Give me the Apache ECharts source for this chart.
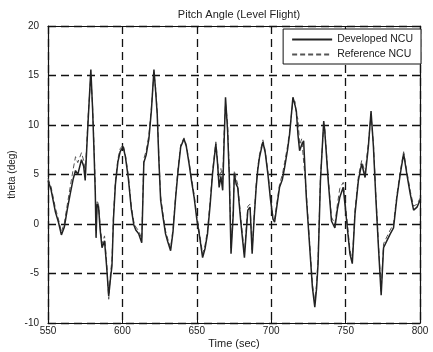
<!DOCTYPE html>
<html>
<head>
<meta charset="utf-8">
<script src="https://cdn.jsdelivr.net/npm/echarts@6/dist/echarts.min.js"></script>
<style>
  html, body { margin: 0; padding: 0; background: #fff; }
  #chart { width: 433px; height: 352px; }
</style>
</head>
<body>
<div id="chart"></div>
<script>
const time = [550, 552, 555, 557, 559, 561, 563, 565, 567, 568.5, 570, 572.5, 574, 575, 576, 577, 578.8, 580, 581, 581.8,
  582.3, 583, 584, 585, 586.3, 588, 589.5, 590.8, 592, 593, 594, 595.3, 597, 598.5, 600.5, 602, 604, 606, 607.7, 609,
  611, 613, 613.6, 614.4, 616, 617.8, 619.5, 621.2, 622.3, 623.4, 624.5, 625.7, 627.5, 629, 630.5, 632.4, 634, 635.8, 637.5, 639.2,
  641.4, 643, 644.8, 646.5, 648.2, 650, 651.6, 653.9, 655.5, 657.2, 659, 660.6, 662.8, 664, 665, 666.2, 667.4, 668.3, 669.3, 670.7,
  671.8, 673, 674.5, 675.2, 676.5, 677.5, 679.7, 682, 684.3, 685.8, 687.2, 688.5, 689.9, 691, 692.1, 694.4, 696, 697.8, 699.5, 701.2,
  702.3, 704, 705.6, 707.5, 709, 711, 712.4, 714.6, 716, 716.9, 718, 719.1, 720.5, 721.8, 723.6, 725.9, 727.7, 729.3, 730.5, 731.5,
  733.1, 735.3, 736, 738.3, 740.5, 742.8, 744.5, 746.1, 748.4, 750.7, 752.9, 754.5, 756.3, 758.6, 760.8, 763.1, 765.3, 767.1, 768.7, 770.3,
  772.1, 773.9, 775.5, 777.7, 780, 782.2, 784.5, 786.7, 789, 791.2, 793.5, 795.7, 798, 800];

const developed = [4.4, 3.5, 1.2, 0.2, -1.1, -0.3, 1.5, 3.1, 4.6, 5.4, 5.0, 6.5, 5.8, 4.4, 7.5, 10.5, 15.6, 11.5, 7.0, 3.0,
  -1.4, 2.0, 1.7, -0.5, -2.4, -1.7, -4.5, -7.3, -5.5, -4.2, 0.5, 4.0, 6.3, 7.3, 7.8, 6.8, 4.6, 1.5, -0.1, -0.6,
  -1.0, -1.9, 1.5, 6.2, 7.0, 8.6, 11.5, 15.6, 13.5, 11.1, 6.5, 2.4, 0.5, -1.0, -1.8, -2.7, -0.8, 2.7, 5.5, 7.8,
  8.6, 7.8, 6.1, 4.3, 2.7, 0.5, -1.0, -3.4, -2.5, -1.0, 2.0, 5.1, 8.1, 6.0, 3.7, 4.8, 3.4, 8.0, 12.8, 9.4,
  5.0, -3.0, 1.0, 5.1, 4.0, 3.7, 0.0, -3.4, 1.4, 1.7, -3.0, 0.5, 3.7, 5.5, 6.7, 8.3, 7.2, 5.0, 2.5, 0.5,
  0.2, 2.0, 3.7, 4.5, 5.7, 7.5, 9.1, 12.8, 12.0, 11.4, 9.0, 7.4, 8.0, 8.4, 2.7, -2.4, -6.4, -8.4, -6.5, -4.0,
  4.4, 10.4, 9.4, 4.4, 0.3, -0.4, 1.5, 2.7, 3.7, 0.3, -3.0, -4.0, 1.0, 4.4, 6.1, 4.7, 7.8, 11.4, 7.8, 2.7,
  -2.4, -7.2, -2.4, -1.7, -1.0, -0.4, 2.7, 5.0, 7.1, 5.0, 3.0, 1.4, 1.7, 2.4];

const reference = [4.6, 3.8, 1.6, 0.5, -0.8, 0.1, 2.0, 3.8, 5.6, 6.8, 6.2, 7.2, 6.4, 5.2, 8.0, 11.0, 15.0, 11.8, 7.6, 3.8,
  -0.8, 2.4, 1.9, 0.0, -2.0, -1.2, -4.0, -7.6, -5.0, -3.6, 1.0, 4.4, 6.6, 7.6, 8.0, 7.0, 4.9, 1.8, 0.2, -0.3,
  -0.7, -1.5, 2.0, 6.6, 7.4, 9.0, 11.8, 15.2, 13.8, 11.4, 6.9, 2.8, 0.8, -0.7, -1.5, -2.4, -0.5, 3.0, 5.8, 8.0,
  8.7, 8.0, 6.3, 4.6, 3.0, 0.8, -0.7, -3.0, -2.2, -0.6, 2.4, 5.4, 8.3, 6.4, 4.2, 5.6, 4.5, 9.0, 12.2, 10.2,
  5.6, -2.4, 1.4, 5.4, 4.6, 4.0, 0.4, -3.0, 1.8, 2.0, -2.6, 0.8, 4.0, 5.8, 7.0, 8.5, 7.4, 5.3, 2.8, 0.8,
  0.5, 2.3, 4.0, 5.0, 6.2, 7.9, 9.4, 12.4, 12.4, 11.0, 10.6, 8.0, 8.6, 8.8, 3.2, -2.0, -6.0, -8.0, -6.0, -3.5,
  4.8, 10.0, 9.6, 4.8, 0.7, 0.0, 2.0, 3.6, 4.2, 0.8, -2.6, -3.6, 1.4, 4.8, 6.4, 5.2, 8.2, 11.0, 8.2, 3.1,
  -2.0, -6.8, -2.0, -1.3, -0.6, 0.0, 3.0, 5.3, 7.3, 5.3, 3.3, 1.8, 2.0, 2.6];

const xTicks = [550, 600, 650, 700, 750, 800];
const yTicks = [-10, -5, 0, 5, 10, 15, 20];

const devData = time.map((t, i) => [t, developed[i]]);
const refData = time.map((t, i) => [t, reference[i]]);

const chart = echarts.init(document.getElementById('chart'), null, { renderer: 'canvas' });

const font = 'Liberation Sans, Arial, sans-serif';
const gridDash = { color: '#111', width: 1.3, type: [8, 5] };
const frame = { show: true, onZero: false, lineStyle: { color: '#111', width: 1.2 } };
const tick = { show: true, inside: true, length: 4, lineStyle: { color: '#111' } };

const option = {
  backgroundColor: '#fff',
  animation: false,
  title: {
    text: 'Pitch Angle (Level Flight)',
    left: 234,
    textAlign: 'center',
    top: 4,
    textStyle: { fontFamily: font, fontSize: 11, fontWeight: 'normal', color: '#222' }
  },
  legend: {
    orient: 'vertical',
    right: 12,
    top: 29,
    itemWidth: 40,
    itemHeight: 8,
    itemGap: 4,
    padding: [5, 8, 4, 8],
    backgroundColor: '#fff',
    borderColor: '#111',
    borderWidth: 1,
    itemStyle: { opacity: 0 },
    textStyle: { fontFamily: font, fontSize: 10.5, color: '#222' },
    data: ['Developed NCU', 'Reference NCU']
  },
  grid: { left: 48, right: 13, top: 26, bottom: 29, outerBoundsMode: 'none', containLabel: false },
  xAxis: [{
    type: 'value',
    min: 550,
    max: 800,
    interval: 50,
    name: 'Time (sec)',
    nameLocation: 'middle',
    nameGap: 15,
    nameMoveOverlap: false,
    nameTextStyle: { fontFamily: font, fontSize: 11, color: '#222' },
    axisLine: frame,
    axisTick: tick,
    axisLabel: { fontFamily: font, fontSize: 10, color: '#222', margin: 3,
      formatter: v => xTicks.includes(v) ? String(v) : '' },
    splitLine: { show: true, lineStyle: gridDash }
  }, {
    type: 'value', position: 'top', min: 550, max: 800, interval: 50,
    axisLine: frame, axisTick: tick,
    axisLabel: { show: false }, splitLine: { show: false }
  }],
  yAxis: [{
    type: 'value',
    min: -10,
    max: 20,
    interval: 5,
    name: 'theta (deg)',
    nameLocation: 'middle',
    nameGap: 31,
    nameRotate: 90,
    nameMoveOverlap: false,
    nameTextStyle: { fontFamily: font, fontSize: 10, color: '#222' },
    axisLine: frame,
    axisTick: tick,
    axisLabel: { fontFamily: font, fontSize: 10, color: '#222', margin: 9,
      formatter: v => yTicks.includes(v) ? String(v) : '' },
    splitLine: { show: true, lineStyle: gridDash }
  }, {
    type: 'value', position: 'right', min: -10, max: 20, interval: 5,
    axisLine: frame, axisTick: tick,
    axisLabel: { show: false }, splitLine: { show: false }
  }],
  series: [
    {
      name: 'Reference NCU',
      type: 'line',
      data: refData,
      symbol: 'none',
      z: 3,
      itemStyle: { color: '#555' },
      lineStyle: { color: '#555', width: 1, type: [5, 3] }
    },
    {
      name: 'Developed NCU',
      type: 'line',
      data: devData,
      symbol: 'none',
      z: 4,
      itemStyle: { color: '#222' },
      lineStyle: { color: '#222', width: 1.5 }
    }
  ]
};

chart.setOption(option);
</script>
</body>
</html>
